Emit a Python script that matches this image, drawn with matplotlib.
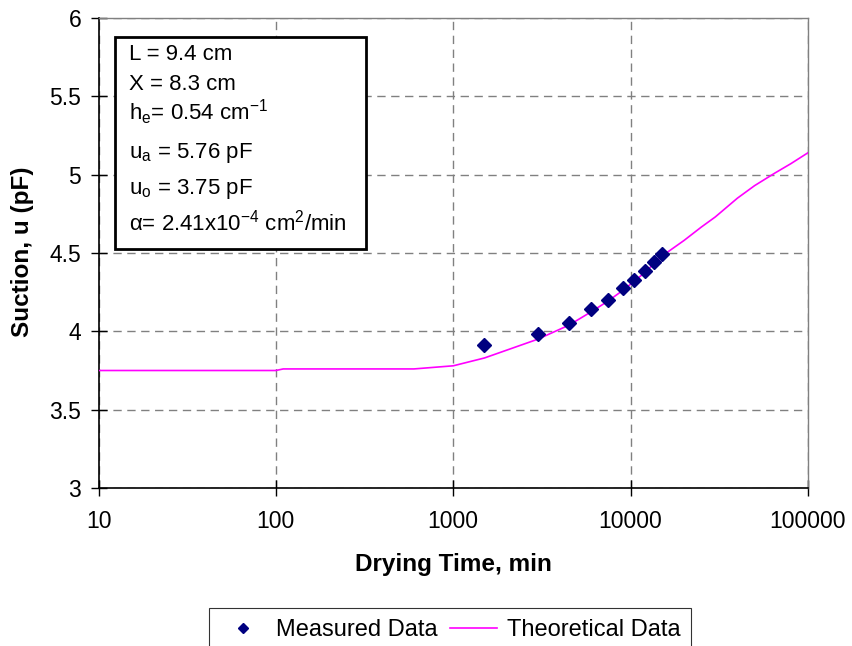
import matplotlib
matplotlib.use("Agg")
import matplotlib.pyplot as plt
from matplotlib.patches import Rectangle

plt.rcParams["font.family"] = ["Liberation Sans", "DejaVu Sans"]
plt.rcParams["mathtext.fontset"] = "custom"
plt.rcParams["mathtext.rm"] = "Liberation Sans"
plt.rcParams["mathtext.it"] = "Liberation Sans"

# ── data ──────────────────────────────────────────────────────────────────────
meas_t = [1500, 3000, 4500, 6000, 7500, 9000, 10500, 12000, 13500, 15000]
meas_u = [3.91, 3.98, 4.055, 4.145, 4.20, 4.275, 4.33, 4.385, 4.44, 4.495]

theo_t = [10, 100, 110, 600, 1000, 1500, 3000, 4500, 6000, 7500, 9000, 10500,
          12000, 13500, 15000, 20000, 25000, 30000, 40000, 50000, 65000,
          80000, 100000]
theo_u = [3.75, 3.75, 3.76, 3.76, 3.78, 3.83, 3.95, 4.04, 4.125, 4.195, 4.26,
          4.32, 4.375, 4.43, 4.48, 4.58, 4.665, 4.73, 4.85, 4.93, 5.01,
          5.07, 5.14]

x_ticks = [10, 100, 1000, 10000, 100000]
y_ticks = [3, 3.5, 4, 4.5, 5, 5.5, 6]
y_ticklabels = ["3", "3.5", "4", "4.5", "5", "5.5", "6"]

params = [
    r"L = 9.4 cm",
    r"X = 8.3 cm",
    r"h$_\mathregular{e}$= 0.54 cm$^\mathregular{-1}$",
    r"u$_\mathregular{a}$ = 5.76 pF",
    r"u$_\mathregular{o}$ = 3.75 pF",
    r"α= 2.41x10$^\mathregular{-4}$ cm$^\mathregular{2}$/min",
]

# ── figure ────────────────────────────────────────────────────────────────────
W, H = 852, 646
fig = plt.figure(figsize=(W / 100, H / 100), dpi=100)
ax = fig.add_axes([98.5 / W, 1 - 488 / H, (808 - 98.5) / W, (488 - 18) / H])

ax.set_xscale("log")
ax.set_xlim(10, 100000)
ax.set_ylim(3, 6)

ax.grid(True, which="major", color="#808080", linestyle=(0, (6, 4)), linewidth=1.0)
ax.set_axisbelow(True)

ax.plot(theo_t, theo_u, color="#FF00FF", linewidth=1.2, label="Theoretical Data", zorder=3)
ax.plot(meas_t, meas_u, linestyle="none", marker="D", markersize=7,
        color="#000080", label="Measured Data", zorder=4)

ax.set_xticks(x_ticks)
ax.set_xticklabels([str(t) for t in x_ticks])
ax.xaxis.set_minor_locator(matplotlib.ticker.NullLocator())
ax.set_yticks(y_ticks)
ax.set_yticklabels(y_ticklabels)
ax.tick_params(axis="both", direction="inout", length=11, width=1, colors="black",
               labelsize=16.5)
ax.tick_params(axis="y", pad=7)
ax.tick_params(axis="x", pad=10)

for s in ["top", "right"]:
    ax.spines[s].set_color("#808080")
    ax.spines[s].set_linewidth(1.0)
for s in ["left", "bottom"]:
    ax.spines[s].set_color("black")
    ax.spines[s].set_linewidth(1.2)

fig.text(453 / W, 1 - 565 / H, "Drying Time, min", fontsize=17.5, fontweight="bold",
         ha="center", va="center")
fig.text(23 / W, 1 - 252 / H, "Suction, u (pF)", fontsize=17.5, fontweight="bold",
         ha="center", va="center", rotation=90)

# ── parameter box ─────────────────────────────────────────────────────────────
fig.patches.append(Rectangle((115 / W, 1 - 249 / H), (366 - 115) / W, (249 - 37) / H,
                             transform=fig.transFigure, facecolor="white",
                             edgecolor="black", linewidth=2, zorder=5))
baselines = [60, 90, 120, 158, 194, 231]
for txt, yb in zip(params, baselines):
    fig.text(129 / W, 1 - yb / H, txt, fontsize=16, ha="left", va="baseline", zorder=6)

# ── legend ────────────────────────────────────────────────────────────────────
handles, labels = ax.get_legend_handles_labels()
leg = fig.legend(handles[::-1], labels[::-1], loc="center",
                 bbox_to_anchor=(450 / W, 1 - 630 / H), ncol=2, fontsize=17,
                 frameon=True, fancybox=False, edgecolor="black",
                 handlelength=2.0, columnspacing=0.5, handletextpad=0.4,
                 borderpad=0.45, markerscale=0.8)
leg.get_frame().set_linewidth(0.8)

fig.savefig("out.png", dpi=100, facecolor="white")
